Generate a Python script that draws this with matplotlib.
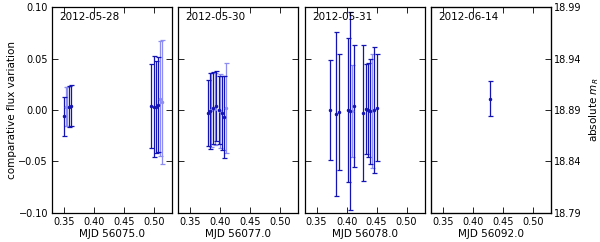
import numpy as np
import matplotlib
matplotlib.use("Agg")
import matplotlib.pyplot as plt

# nights
dates = ["2012-05-28", "2012-05-30", "2012-05-31", "2012-06-14"]
mjd_labels = ["MJD 56075.0", "MJD 56077.0", "MJD 56078.0", "MJD 56092.0"]

# dark blue points (fraction of day, flux variation, error)
n1_x = [0.3505, 0.3583, 0.3612, 0.495, 0.4995, 0.5033, 0.5067]
n1_y = [-0.006, 0.003, 0.004, 0.004, 0.003, 0.003, 0.005]
n1_e = [0.019, 0.020, 0.020, 0.041, 0.049, 0.045, 0.046]
n2_x = [0.3795, 0.382, 0.3878, 0.3933, 0.397, 0.403, 0.406]
n2_y = [-0.003, -0.001, 0.002, 0.004, 0.0, -0.003, -0.007]
n2_e = [0.032, 0.037, 0.035, 0.034, 0.033, 0.036, 0.040]
n3_x = [0.372, 0.383, 0.387, 0.402, 0.4055, 0.413, 0.428, 0.432, 0.4355, 0.439, 0.4455, 0.450]
n3_y = [0.0, -0.004, -0.002, 0.0, -0.001, 0.004, -0.003, 0.001, 0.0, -0.001, 0.0, 0.002]
n3_e = [0.049, 0.080, 0.056, 0.070, 0.096, 0.059, 0.066, 0.044, 0.046, 0.051, 0.061, 0.052]
n4_x = [0.429]
n4_y = [0.011]
n4_e = [0.017]

# light blue points
l1_x = [0.3533, 0.3555, 0.5105, 0.5138]
l1_y = [0.003, 0.003, 0.011, 0.008]
l1_e = [0.019, 0.019, 0.056, 0.060]
l2_x = [0.385, 0.3905, 0.400, 0.4088]
l2_y = [0.0, 0.001, -0.001, 0.002]
l2_e = [0.036, 0.035, 0.036, 0.044]
l3_x = [0.409, 0.4415]
l3_y = [-0.001, -0.001]
l3_e = [0.045, 0.055]
l4_x = []
l4_y = []
l4_e = []

dark = [(n1_x, n1_y, n1_e), (n2_x, n2_y, n2_e), (n3_x, n3_y, n3_e), (n4_x, n4_y, n4_e)]
light = [(l1_x, l1_y, l1_e), (l2_x, l2_y, l2_e), (l3_x, l3_y, l3_e), (l4_x, l4_y, l4_e)]

xticks = [0.35, 0.40, 0.45, 0.50]
yticks = [-0.10, -0.05, 0.00, 0.05, 0.10]
mag_ticks = [18.79, 18.84, 18.89, 18.94, 18.99]

plt.rcParams['font.family'] = 'DejaVu Sans'

fig, axes = plt.subplots(1, 4, figsize=(6.0, 2.42), dpi=100, sharey=True)
fig.subplots_adjust(left=0.087, right=0.918, bottom=0.12, top=0.971, wspace=0.052)

for i, ax in enumerate(axes):
    lx, ly, le = light[i]
    if len(lx):
        ax.errorbar(lx, ly, yerr=le, fmt='.', color='#8c8cf2', ms=3, lw=0.9,
                    capsize=1.8, capthick=0.9)
    dx, dy, de = dark[i]
    ax.errorbar(dx, dy, yerr=de, fmt='.', color='#1414b4', ms=3, lw=0.9,
                capsize=1.8, capthick=0.9)
    ax.set_xlim(0.33, 0.53)
    ax.set_ylim(-0.10, 0.10)
    ax.set_xticks(xticks)
    ax.set_yticks(yticks)
    ax.tick_params(direction='in', length=4, width=0.6, labelsize=7, pad=3,
                   top=True, right=True)
    ax.set_xlabel(mjd_labels[i], fontsize=7.5, labelpad=1)
    ax.text(0.06, 0.95, dates[i], transform=ax.transAxes, fontsize=7.5,
            va='center', ha='left')
    for s in ax.spines.values():
        s.set_linewidth(0.9)

axes[0].set_ylabel("comparative flux variation", fontsize=7.5, labelpad=1)
axes[0].set_yticklabels(["\u22120.10", "\u22120.05", "0.00", "0.05", "0.10"])

ax2 = axes[3].twinx()
ax2.set_ylim(18.79, 18.99)
ax2.set_yticks(mag_ticks)
ax2.set_yticklabels(["%.2f" % t for t in mag_ticks])
ax2.tick_params(direction='in', length=4, width=0.6, labelsize=7, pad=2)
ax2.set_ylabel("absolute $m_R$", fontsize=7.5, labelpad=4)

fig.savefig("out.png", dpi=100)
